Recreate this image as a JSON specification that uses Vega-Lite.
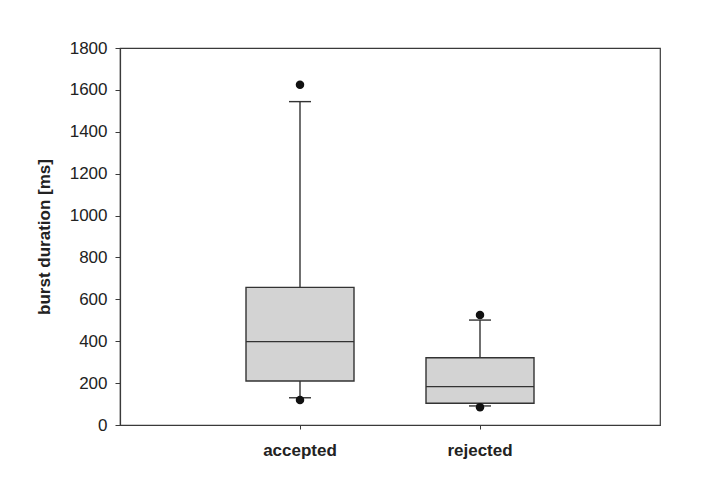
{
  "$schema": "https://vega.github.io/schema/vega-lite/v6.json",
  "width": 540,
  "height": 377,
  "autosize": {"type": "none"},
  "padding": {"left": 120, "top": 48, "right": 58, "bottom": 53},
  "background": "white",
  "config": {
    "font": "Liberation Sans",
    "view": {"stroke": "#3a3a3a", "strokeWidth": 1.2},
    "axis": {"domainColor": "#3a3a3a", "tickColor": "#3a3a3a", "labelColor": "#222", "titleColor": "#222", "grid": false}
  },
  "datasets": {
    "boxes": [
      {"group": "accepted", "lower": 130, "q1": 210, "median": 398, "q3": 657, "upper": 1544},
      {"group": "rejected", "lower": 91, "q1": 104, "median": 183, "q3": 321, "upper": 501}
    ],
    "outliers": [
      {"group": "accepted", "value": 1624},
      {"group": "accepted", "value": 119},
      {"group": "rejected", "value": 525},
      {"group": "rejected", "value": 85}
    ]
  },
  "encoding": {
    "x": {
      "field": "group", "type": "nominal",
      "scale": {"domain": ["accepted", "rejected"], "paddingInner": 0, "paddingOuter": 0.5},
      "axis": {"title": null, "labelAngle": 0, "labelFontSize": 17, "labelFontWeight": "bold", "labelPadding": 13, "tickSize": 4, "domainWidth": 1.2}
    }
  },
  "layer": [
    {
      "data": {"name": "boxes"},
      "mark": {"type": "rule", "color": "#333", "strokeWidth": 1.4},
      "encoding": {
        "y": {"field": "lower", "type": "quantitative",
          "scale": {"domain": [0, 1800], "nice": false},
          "axis": {"title": "burst duration [ms]", "format": "d", "values": [0,200,400,600,800,1000,1200,1400,1600,1800], "labelFontSize": 17, "titleFontSize": 17, "titleFontWeight": "bold", "tickSize": 5, "labelPadding": 8, "titlePadding": 16, "domainWidth": 1.2}},
        "y2": {"field": "upper"}
      }
    },
    {
      "data": {"name": "boxes"},
      "mark": {"type": "bar", "fill": "#d3d3d3", "stroke": "#333", "strokeWidth": 1.4, "size": 108, "opacity": 1},
      "encoding": {
        "y": {"field": "q1", "type": "quantitative"},
        "y2": {"field": "q3"}
      }
    },
    {
      "data": {"name": "boxes"},
      "mark": {"type": "tick", "color": "#333", "size": 108, "thickness": 1.4, "opacity": 1},
      "encoding": {"y": {"field": "median", "type": "quantitative"}}
    },
    {
      "data": {"name": "boxes"},
      "mark": {"type": "tick", "color": "#333", "size": 22, "thickness": 1.4, "opacity": 1},
      "encoding": {"y": {"field": "upper", "type": "quantitative"}}
    },
    {
      "data": {"name": "boxes"},
      "mark": {"type": "tick", "color": "#333", "size": 22, "thickness": 1.4, "opacity": 1},
      "encoding": {"y": {"field": "lower", "type": "quantitative"}}
    },
    {
      "data": {"name": "outliers"},
      "mark": {"type": "point", "filled": true, "color": "#111", "size": 72, "opacity": 1},
      "encoding": {"y": {"field": "value", "type": "quantitative"}}
    }
  ]
}
